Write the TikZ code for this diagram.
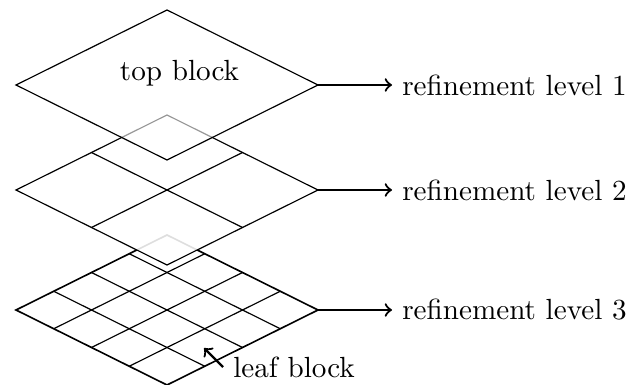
\documentclass[tikz,border=0pt]{standalone}
\usetikzlibrary{calc}
\tikzset{
  edge/.style={line width=0.4pt, line join=miter},
  outer/.style={line width=0.55pt},
  cover/.style={fill=white},
  levelarrow/.style={->, line width=0.75pt},
  label/.style={anchor=west, inner sep=3.33pt},
}
% one layer: corners named <p>T, <p>R, <p>B, <p>L around centre (167,cy)
\newcommand{\layercorners}[2]{%
  \coordinate (#1T) at (167,#2-75);
  \coordinate (#1R) at (318,#2);
  \coordinate (#1B) at (167,#2+75);
  \coordinate (#1L) at (16,#2);
}
% grid of #2 x #2 cells inside layer #1
\newcommand{\layergrid}[2]{%
  \foreach \i in {1,...,\numexpr#2-1\relax}{%
    \draw[edge] ($(#1L)!\i/#2!(#1T)$) -- ($(#1B)!\i/#2!(#1R)$);
    \draw[edge] ($(#1L)!\i/#2!(#1B)$) -- ($(#1T)!\i/#2!(#1R)$);
  }%
}
\begin{document}
\begin{tikzpicture}[x=0.343pt, y=-0.343pt]
  \useasboundingbox (0,0) rectangle (629,385);

  \layercorners{c}{310}
  \layercorners{b}{190}
  \layercorners{a}{85}

  % finest level
  \layergrid{c}{4}
  \draw[edge, outer] (cT) -- (cR) -- (cB) -- (cL) -- cycle;

  % middle level, half covering the one below
  \fill[cover, fill opacity=0.87] (bT) -- (bR) -- (bB) -- (bL) -- cycle;
  \layergrid{b}{2}
  \draw[edge] (bT) -- (bR) -- (bB) -- (bL) -- cycle;

  % top level
  \fill[cover, fill opacity=0.6] (aT) -- (aR) -- (aB) -- (aL) -- cycle;
  \draw[edge] (aT) -- (aR) -- (aB) -- (aL) -- cycle;
  \node (top) at (179.5,73) {top block};

  % level labels
  \node[label] (l1) at (392,85) {refinement level 1};
  \node[label] (l2) at (392,190) {refinement level 2};
  \node[label] (l3) at (392,310) {refinement level 3};
  \draw[levelarrow] (aR) -- (l1.west);
  \draw[levelarrow] (bR) -- (l2.west);
  \draw[levelarrow] (cR) -- (l3.west);

  % leaf block pointer
  \node[label] (leaf) at (223,367) {leaf block};
  \coordinate (leaftip) at (204,348);
  \draw[levelarrow] (leaf.west) -- (leaftip);
\end{tikzpicture}
\end{document}
